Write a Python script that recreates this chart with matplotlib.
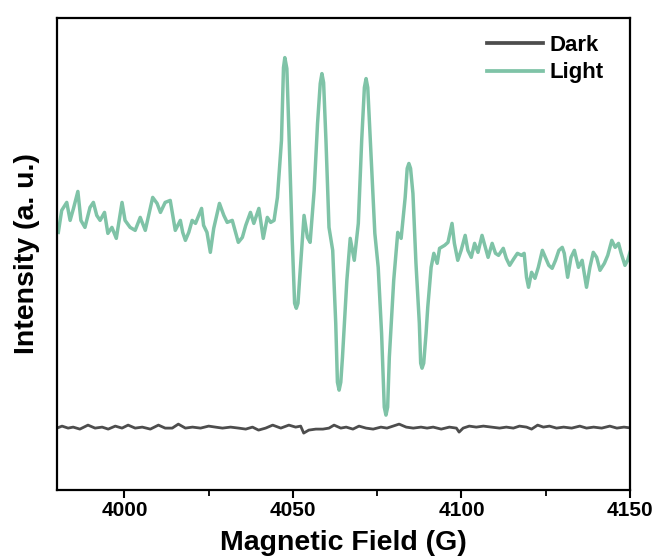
import matplotlib
matplotlib.use("Agg")
import matplotlib.pyplot as plt
from matplotlib.ticker import MultipleLocator

# === DATI ===
# campo magnetico (G) e intensita' (u.a.)
light_field = [
    3980.4, 3981.4, 3982.9, 3983.9, 3984.9, 3986.2, 3987.1, 3988.3, 3989.8, 3990.8,
    3991.8, 3992.8, 3994.1, 3995.1, 3996.3, 3997.6, 3999.3, 4000.2, 4001.7, 4003.2,
    4004.7, 4006.2, 4008.4, 4009.7, 4010.7, 4012.1, 4013.6, 4015.1, 4016.6, 4017.3,
    4018.1, 4019.1, 4020.1, 4021.1, 4022.9, 4023.5, 4024.5, 4025.5, 4026.5, 4028.2,
    4029.5, 4030.5, 4032.0, 4033.8, 4035.0, 4036.0, 4037.4, 4038.4, 4039.9, 4041.2,
    4042.4, 4043.4, 4044.4, 4045.4, 4046.6, 4047.2, 4047.6, 4048.2, 4048.8, 4049.8,
    4050.5, 4051.0, 4051.5, 4052.1, 4053.3, 4054.3, 4055.1, 4056.3, 4057.3, 4058.1,
    4058.6, 4059.1, 4059.8, 4060.7, 4061.8, 4062.7, 4063.2, 4063.7, 4064.2, 4064.7,
    4066.0, 4067.0, 4068.2, 4069.4, 4070.4, 4071.2, 4071.7, 4072.2, 4073.2, 4074.3,
    4075.3, 4076.3, 4077.1, 4077.6, 4078.1, 4078.6, 4079.9, 4081.1, 4082.1, 4083.3,
    4083.9, 4084.4, 4084.9, 4085.6, 4086.5, 4087.5, 4087.9, 4088.3, 4088.8, 4089.5,
    4090.0, 4091.0, 4091.8, 4092.8, 4093.5, 4095.0, 4096.0, 4097.2, 4097.9, 4098.9,
    4099.9, 4101.1, 4101.9, 4102.9, 4103.9, 4104.9, 4106.1, 4107.1, 4107.9, 4109.1,
    4110.1, 4111.0, 4112.4, 4113.3, 4114.3, 4115.6, 4116.6, 4117.8, 4118.6, 4119.3,
    4119.9, 4120.8, 4121.8, 4122.8, 4124.0, 4124.9, 4125.9, 4126.9, 4127.9, 4128.9,
    4129.9, 4130.5, 4131.5, 4132.5, 4133.5, 4134.7, 4135.8, 4137.1, 4138.1, 4139.1,
    4140.1, 4141.1, 4142.4, 4143.4, 4144.6, 4145.6, 4146.6, 4147.3, 4148.5, 4149.3,
    4150.0,
]
light_int = [
    258, 280, 288, 270, 282, 299, 270, 263, 283, 288,
    275, 270, 278, 257, 263, 252, 288, 270, 263, 260,
    273, 260, 293, 287, 278, 288, 290, 260, 270, 258,
    250, 258, 270, 267, 282, 265, 258, 238, 262, 287,
    275, 268, 270, 248, 253, 265, 278, 267, 282, 252,
    273, 268, 270, 293, 350, 423, 433, 422, 360, 250,
    187, 182, 187, 217, 275, 253, 248, 300, 367, 407,
    417, 408, 350, 263, 240, 167, 108, 100, 108, 133,
    210, 252, 230, 267, 350, 403, 412, 403, 333, 257,
    223, 157, 83, 75, 83, 133, 210, 258, 252, 293,
    322, 327, 322, 297, 227, 167, 127, 122, 127, 157,
    183, 223, 237, 227, 242, 245, 248, 267, 247, 230,
    240, 255, 240, 233, 247, 238, 255, 243, 233, 247,
    237, 235, 242, 232, 225, 232, 237, 235, 237, 213,
    203, 218, 212, 223, 240, 233, 225, 222, 230, 240,
    243, 237, 213, 233, 240, 223, 230, 203, 223, 238,
    233, 220, 227, 235, 250, 243, 247, 238, 225, 230,
    238,
]

dark_field = [
    3980.0, 3981.5, 3983.3, 3984.8, 3986.8, 3989.2, 3991.3, 3993.4, 3995.2, 3997.3,
    3999.3, 4001.1, 4003.2, 4005.3, 4007.7, 4010.1, 4012.1, 4014.2, 4016.0, 4018.1,
    4020.2, 4022.6, 4025.0, 4027.0, 4029.1, 4031.5, 4033.9, 4036.0, 4038.0, 4039.8,
    4041.9, 4044.0, 4046.4, 4048.8, 4050.8, 4052.3, 4053.2, 4054.7, 4056.8, 4058.9,
    4060.7, 4062.2, 4064.2, 4065.8, 4067.8, 4069.6, 4071.7, 4073.8, 4076.1, 4077.9,
    4079.7, 4081.5, 4083.6, 4085.7, 4088.0, 4089.8, 4091.6, 4094.0, 4096.4, 4098.5,
    4099.3, 4100.5, 4102.3, 4104.4, 4106.5, 4108.9, 4111.3, 4113.3, 4115.4, 4117.2,
    4119.3, 4120.8, 4122.6, 4124.3, 4126.1, 4128.2, 4130.3, 4132.7, 4135.1, 4137.1,
    4139.2, 4141.6, 4144.0, 4146.1, 4148.2, 4150.6,
]
dark_int = [
    62, 64, 62, 63, 61, 65, 62, 63, 61, 64,
    62, 65, 62, 63, 61, 65, 62, 62, 66, 62,
    63, 62, 64, 63, 62, 63, 62, 61, 63, 60,
    62, 65, 62, 65, 63, 64, 57, 60, 61, 61,
    62, 65, 62, 63, 61, 64, 62, 61, 63, 62,
    64, 66, 63, 62, 63, 62, 63, 61, 63, 62,
    58, 62, 64, 63, 64, 63, 62, 63, 62, 64,
    63, 61, 65, 63, 64, 62, 63, 62, 64, 62,
    63, 62, 64, 62, 63, 62,
]

DARK_COLOR = "#4d4d4d"
LIGHT_COLOR = "#7fc3a7"

plt.rcParams["font.family"] = ["Liberation Sans", "DejaVu Sans"]
plt.rcParams["font.weight"] = "bold"

fig = plt.figure(figsize=(6.64, 5.59), dpi=100)
ax = fig.add_axes([0.0858, 0.1234, 0.863, 0.845])

ax.plot(dark_field, dark_int, color=DARK_COLOR, lw=2.0, label="Dark",
        solid_joinstyle="round")
ax.plot(light_field, light_int, color=LIGHT_COLOR, lw=2.5, label="Light",
        solid_joinstyle="round")

ax.set_xlim(3980, 4150)
ax.set_ylim(0, 473)
ax.xaxis.set_major_locator(MultipleLocator(50))
ax.xaxis.set_minor_locator(MultipleLocator(25))
ax.set_yticks([])
ax.tick_params(axis="x", which="major", direction="out", length=6, width=1.5,
               labelsize=15, pad=2)
ax.tick_params(axis="x", which="minor", direction="out", length=4, width=1.3)
for s in ax.spines.values():
    s.set_linewidth(1.6)

ax.set_xlabel("Magnetic Field (G)", fontsize=20.5, fontweight="bold", labelpad=7)
ax.set_ylabel("Intensity (a. u.)", fontsize=20.5, fontweight="bold", labelpad=12)

leg = ax.legend(loc="upper right", bbox_to_anchor=(0.993, 1.011), frameon=False,
                fontsize=16, handlelength=2.5, handletextpad=0.32,
                labelspacing=0.3, borderaxespad=0.6)
for t in leg.get_texts():
    t.set_fontweight("bold")
for h in leg.get_lines():
    h.set_linewidth(2.7)

fig.savefig("out.png", dpi=100)
